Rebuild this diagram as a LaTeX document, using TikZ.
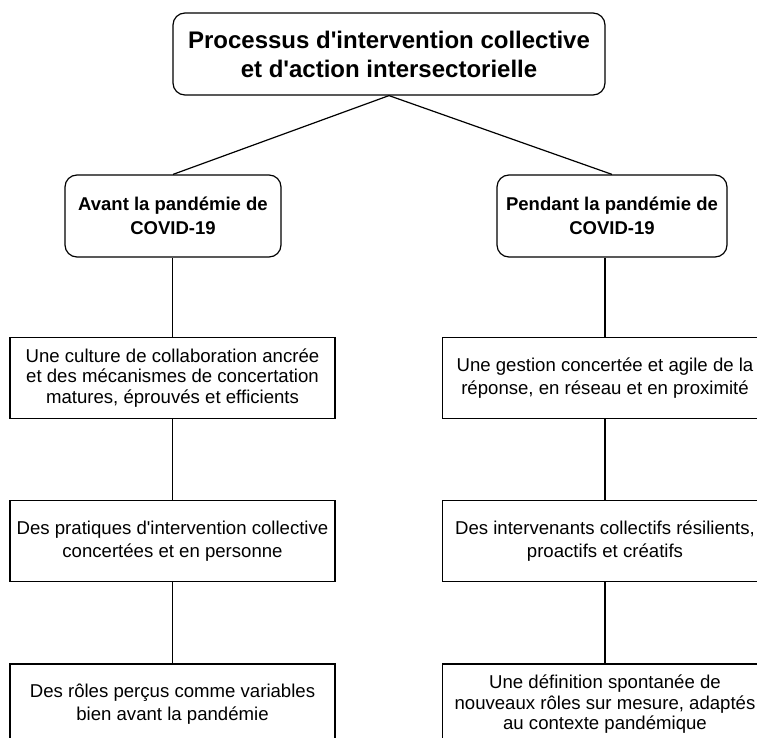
\documentclass[tikz,border=0pt]{standalone}
\usepackage{fontspec}
\setmainfont{Liberation Sans}[Ligatures=TeXOff]
\usetikzlibrary{positioning}

\begin{document}
\begin{tikzpicture}[x=1pt,y=-1pt,node distance=81pt,line width=1.2pt]
        \tikzstyle{every node}=[inner sep=0pt, align=center]
        \tikzstyle{title box}=[draw, rounded corners=12pt, minimum width=432pt, minimum height=82pt, font=\bfseries\fontsize{24}{29}\selectfont]
        \tikzstyle{phase box}=[draw, rounded corners=12pt, minimum height=82pt, font=\bfseries\fontsize{18.5}{24}\selectfont]
        \tikzstyle{item box}=[draw, minimum width=325pt, minimum height=81pt, font=\fontsize{18.6}{23}\selectfont]
        \tikzstyle{tight}=[font=\fontsize{18.6}{20.5}\selectfont]

        \useasboundingbox (0,0) rectangle (757,738);
        \clip (0,0) rectangle (757,738);

        \node[title box]                          (proc)    at (389,54)    {Processus d'intervention collective\\et d'action intersectorielle};
        \node[phase box, minimum width=216pt]     (avant)   at (173,216)   {Avant la pandémie de\\COVID-19};
        \node[phase box, minimum width=230pt]     (pendant) at (612,216)   {Pendant la pandémie de\\COVID-19};

        \node[item box, tight] (avant1)   at (172.5,378)     {Une culture de collaboration ancrée\\et des mécanismes de concertation\\matures, éprouvés et efficients};
        \node[item box]        (avant2)   [below=of avant1]  {Des pratiques d'intervention collective\\concertées et en personne};
        \node[item box]        (avant3)   [below=of avant2]  {Des rôles perçus comme variables\\bien avant la pandémie};

        \node[item box]        (pendant1) at (605,378)       {Une gestion concertée et agile de la\\réponse, en réseau et en proximité};
        \node[item box]        (pendant2) [below=of pendant1] {Des intervenants collectifs résilients,\\proactifs et créatifs};
        \node[item box, tight] (pendant3) [below=of pendant2] {Une définition spontanée de\\nouveaux rôles sur mesure, adaptés\\au contexte pandémique};

        \path (proc.south) edge (avant.north)
                           edge (pendant.north);
        \draw (avant1.north) -- (avant1.north |- avant.south);
        \draw (avant1) -- (avant2);
        \draw (avant2) -- (avant3);
        \draw (pendant1.north) -- (pendant1.north |- pendant.south);
        \draw (pendant1) -- (pendant2);
        \draw (pendant2) -- (pendant3);
      \end{tikzpicture}
\end{document}
